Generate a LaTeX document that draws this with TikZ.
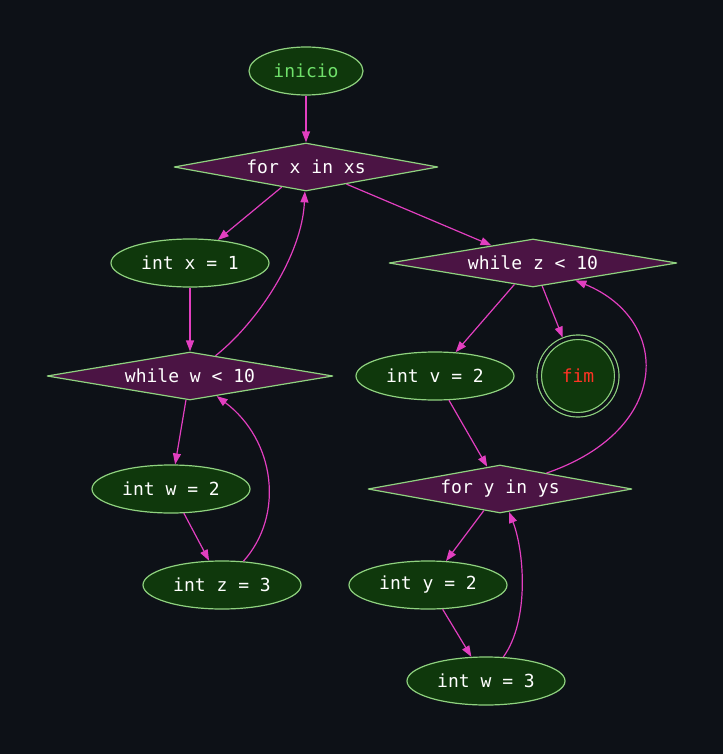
\documentclass[tikz,border=0pt]{standalone}
\usepackage{fontspec}
\setmonofont{DejaVu Sans Mono}
\usetikzlibrary{shapes.geometric,arrows.meta}
\definecolor{fundo}{HTML}{0D1117}
\definecolor{folha}{HTML}{0F380C}
\definecolor{roxo}{HTML}{4B1444}
\definecolor{borda}{HTML}{8FD27F}
\definecolor{rosa}{HTML}{E23FC0}
\definecolor{verde}{HTML}{6FE06A}
\definecolor{vermelho}{HTML}{FF3324}
\begin{document}
\begin{tikzpicture}[x=1pt, y=-1pt, font=\ttfamily\fontsize{18}{20}\selectfont, line join=round, >={Triangle[length=11pt,width=8pt]}]
	\tikzset{
		bloco/.style={ellipse, draw=borda, line width=1.2pt, fill=folha, text=white, minimum width=158pt, minimum height=48pt, inner sep=0pt},
		teste/.style={diamond, draw=borda, line width=1.2pt, fill=roxo, text=white, aspect=5.5, minimum height=48pt, inner sep=0pt},
		fluxo/.style={->, draw=rosa, line width=1.2pt}
	}
	\fill[fundo] (0,0) rectangle (723,754);
	\node[bloco, minimum width=114pt, text=verde] (inicio) at (306,71) {inicio};
	\node[teste, minimum width=264pt] (forx) at (306,167) {for x in xs};
	\node[bloco] (intx) at (190,263) {int x = 1};
	\node[teste, minimum width=288pt] (whilez) at (533,263) {while z < 10};
	\node[teste, minimum width=286pt] (whilew) at (190,376) {while w < 10};
	\node[bloco] (intv) at (435,376) {int v = 2};
	\node[circle, draw=borda, line width=1.2pt, double=fundo, double distance=3.3pt, fill=folha, minimum size=77.5pt, inner sep=0pt, outer sep=2.5pt, text=vermelho] (fim) at (578,376) {fim};
	\node[bloco] (intw) at (171,489) {int w = 2};
	\node[teste, minimum width=264pt] (fory) at (500,489) {for y in ys};
	\node[bloco] (intz) at (222,585) {int z = 3};
	\node[bloco] (inty) at (428,585) {int y = 2};
	\node[bloco] (intwb) at (486,681) {int w = 3};
	\foreach \a/\b in {inicio/forx, forx/intx, forx/whilez, intx/whilew, whilew/intw, intw/intz, whilez/intv, whilez/fim, intv/fory, fory/inty, inty/intwb}
		\draw[fluxo] (\a) -- (\b);
	\draw[fluxo] (whilew) .. controls (258,322) and (302,255) .. (forx);
	\draw[fluxo] (intz) .. controls (285,515) and (275,440) .. (whilew);
	\draw[fluxo] (fory) .. controls (672,430) and (672,320) .. (whilez);
	\draw[fluxo] (intwb) .. controls (530,620) and (524,550) .. (fory);
\end{tikzpicture}
\end{document}
